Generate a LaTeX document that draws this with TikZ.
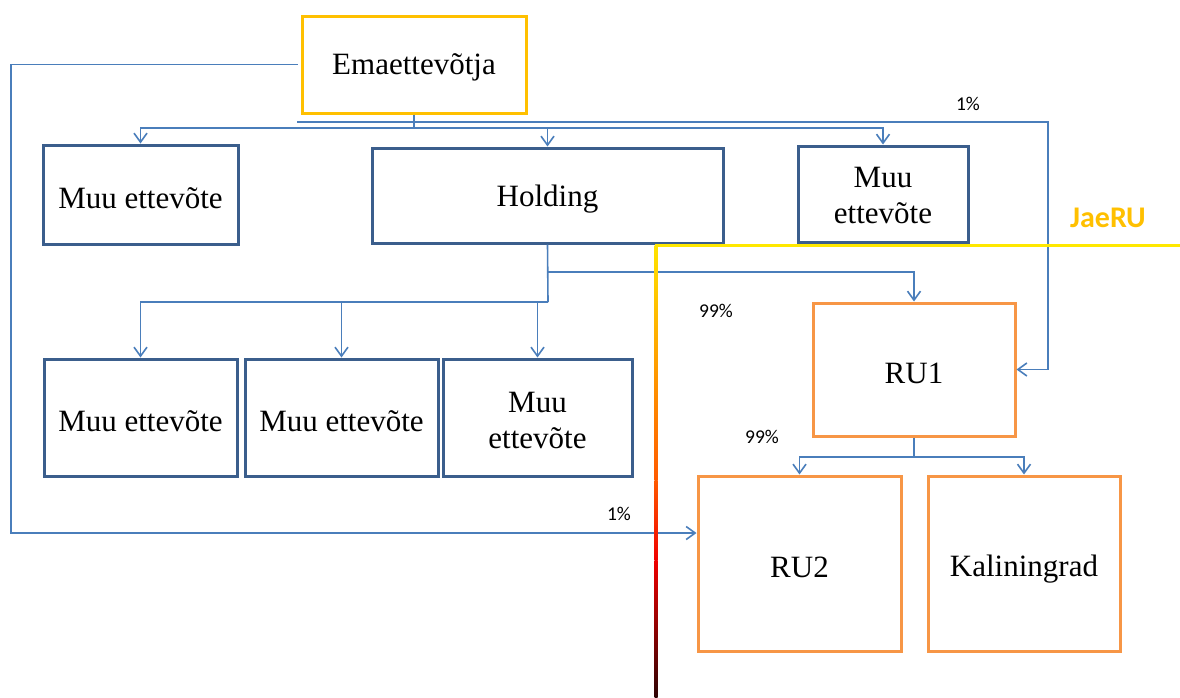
\documentclass[tikz,border=0pt]{standalone}
\usepackage{fontspec}
\setmainfont{Liberation Serif}
\newfontfamily\calib{Carlito}
\usetikzlibrary{arrows.meta}
\definecolor{conncol}{HTML}{4A7EBB}
\definecolor{bluebox}{HTML}{3B5E8C}
\definecolor{orangebox}{HTML}{F79646}
\definecolor{goldbox}{HTML}{FFC000}
\definecolor{yline}{HTML}{FFE800}
\definecolor{gA}{HTML}{FFE400}
\definecolor{gB}{HTML}{FF5A00}
\definecolor{gC}{HTML}{F00000}
\definecolor{gD}{HTML}{2E0404}
\newcommand{\lowtxt}[2][4pt]{\raisebox{-#1}[\height][\depth]{#2}}
\tikzset{
  box/.style={draw, rectangle, line width=3pt, inner sep=0pt, fill=white,
    font=\fontsize{31}{35}\selectfont, align=center, text=black},
  bluerect/.style={box, draw=bluebox},
  orangerect/.style={box, draw=orangebox},
  goldrect/.style={box, draw=goldbox},
  conn/.style={draw=conncol, line width=1.6pt},
  arr/.style={conn, -{Straight Barb[length=9pt,width=13pt,line width=1.6pt]}},
  pct/.style={font=\calib\fontsize{19.5}{22}\selectfont, text=black, inner sep=0pt},
}
\begin{document}
\begin{tikzpicture}[x=1pt,y=-1pt]
\useasboundingbox[fill=white] (0,0) rectangle (1180,697);

% boxes
\node[goldrect, minimum width=224, minimum height=97] (ema) at (414,64.5) {\lowtxt[3pt]{Emaettevõtja}};
\node[bluerect, minimum width=195, minimum height=99] (m1) at (140.5,194.5) {\lowtxt{Muu ettevõte}};
\node[bluerect, minimum width=351, minimum height=95] (hold) at (547.5,195.5) {\lowtxt{Holding}};
\node[bluerect, minimum width=170, minimum height=96] (m3) at (883,194) {};
\node[font=\fontsize{31}{36}\selectfont, align=center, inner sep=0pt] (m3t) at (883,195) {Muu\\ettevõte};
\node[bluerect, minimum width=193, minimum height=117] (ma) at (140.5,417.5) {\lowtxt{Muu ettevõte}};
\node[bluerect, minimum width=193, minimum height=117] (mb) at (341.5,417.5) {\lowtxt{Muu ettevõte}};
\node[bluerect, minimum width=189, minimum height=117] (mc) at (537.5,417.5) {};
\node[font=\fontsize{31}{36}\selectfont, align=center, inner sep=0pt] (mct) at (537.5,420) {Muu\\ettevõte};
\node[orangerect, minimum width=202, minimum height=133] (ru1) at (914,369.5) {\lowtxt{RU1}};
\node[orangerect, minimum width=203, minimum height=175] (ru2) at (799.5,563.5) {\lowtxt{RU2}};
\node[orangerect, minimum width=192, minimum height=175] (kal) at (1024,563.5) {\lowtxt[6pt]{Kaliningrad}};

% coordinates
\coordinate (b1) at (414,128);
\coordinate (cl) at (11,533);
\coordinate (cs) at (297,122);
\coordinate (cr) at (1048,122);
\coordinate (b2) at (548,302);
\coordinate (b3) at (548,272);
\coordinate (b4) at (914,457);

% connectors
\draw[conn] (ema.south) -- (b1);
\draw[arr] (b1) -| (m1.north);
\draw[arr] (b1) -| (hold.north);
\draw[arr] (b1) -| (m3.north);
\draw[arr] ([xshift=-3pt]ema.west) -| (cl) -- (ru2.west |- cl);
\draw[arr] (cs) -- (cr) |- (ru1.east);
\draw[conn] (hold.south) -- (b2);
\draw[arr] (b2) -| (ma.north);
\draw[arr] (b2) -| (mb.north);
\draw[arr] (b2) -| (mc.north);
\draw[arr] (b3) -| (ru1.north);
\draw[conn] (ru1.south) -- (b4);
\draw[arr] (b4) -| (ru2.north);
\draw[arr] (b4) -| (kal.north);

% labels
\node[pct] (p1) at (968,104) {1\%};
\node[pct] (p2) at (716,311) {99\%};
\node[pct] (p3) at (762,437) {99\%};
\node[pct] (p4) at (619,514) {1\%};
\node[font=\calib\bfseries\fontsize{30}{33}\selectfont, text=goldbox, inner sep=0pt] (jae) at (1108,218) {JaeRU};

% JaeRU border
\draw[yline, line width=3pt] (655,245) -- (1180,245);
\shade[top color=gA, bottom color=gB] (654.5,245) rectangle (657.5,480);
\shade[top color=gB, bottom color=gC] (654.5,480) rectangle (657.5,560);
\shade[top color=gC, bottom color=gD] (654.5,560) rectangle (657.5,697);
\end{tikzpicture}
\end{document}
